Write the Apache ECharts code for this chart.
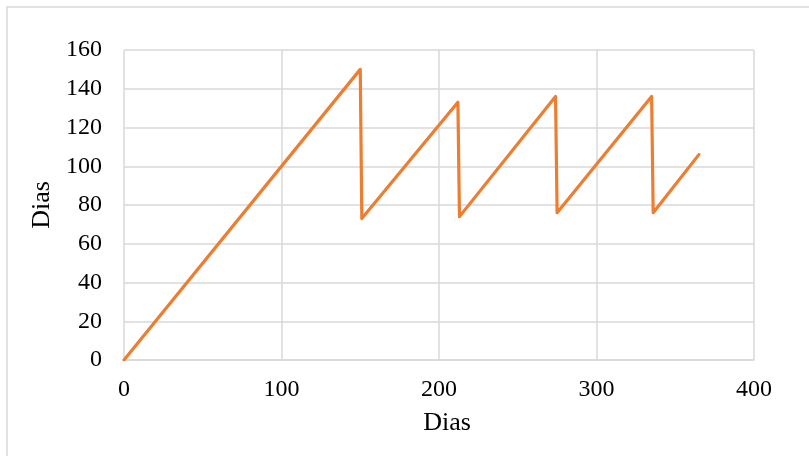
<!DOCTYPE html>
<html>
<head>
<meta charset="utf-8">
<script src="https://cdn.jsdelivr.net/npm/echarts@6/dist/echarts.min.js"></script>
<style>
  html, body { margin: 0; padding: 0; background: #fff; }
  #chart { width: 809px; height: 456px; }
</style>
</head>
<body>
<div id="chart"></div>
<script>
// Day counter: rises one per day, resets at each event
const days = [0, 150, 151, 212, 213, 274, 275, 335, 336, 365];
const counter = [0, 150, 73, 133, 74, 136, 76, 136, 76, 106];
const xTicks = [0, 100, 200, 300, 400];
const yTicks = [0, 20, 40, 60, 80, 100, 120, 140, 160];
const xTitle = 'Dias';
const yTitle = 'Dias';

const points = days.map((d, i) => [d, counter[i]]);
const font = '"Liberation Serif", "Times New Roman", serif';
const gridColor = '#d9d9d9';

const chart = echarts.init(document.getElementById('chart'), null, { renderer: 'canvas' });
chart.setOption({
  backgroundColor: '#fff',
  animation: false,
  graphic: [{
    type: 'rect',
    shape: { x: 7, y: 7, width: 900, height: 600 },
    style: { fill: 'none', stroke: '#d9d9d9', lineWidth: 1.5 },
    silent: true
  }],
  grid: { left: 124, right: 55, top: 50, bottom: 96 },
  xAxis: {
    type: 'value',
    min: xTicks[0],
    max: xTicks[xTicks.length - 1],
    interval: xTicks[1] - xTicks[0],
    name: xTitle,
    nameLocation: 'middle',
    nameGap: 50,
    nameTextStyle: { fontFamily: font, fontSize: 26, color: '#000', padding: [0, 0, 0, 16] },
    axisLine: { show: true, lineStyle: { color: gridColor, width: 1.5 } },
    axisTick: { show: false },
    axisLabel: { fontFamily: font, fontSize: 24, color: '#000', margin: 18 },
    splitLine: { show: true, lineStyle: { color: gridColor, width: 1.5 } }
  },
  yAxis: {
    type: 'value',
    min: yTicks[0],
    max: yTicks[yTicks.length - 1],
    interval: yTicks[1] - yTicks[0],
    name: yTitle,
    nameLocation: 'middle',
    nameGap: 68,
    nameTextStyle: { fontFamily: font, fontSize: 26, color: '#000' },
    axisLine: { show: false },
    axisTick: { show: false },
    axisLabel: { fontFamily: font, fontSize: 24, color: '#000', margin: 22 },
    splitLine: { show: true, lineStyle: { color: gridColor, width: 1.5 } }
  },
  series: [{
    type: 'line',
    data: points,
    symbol: 'none',
    lineStyle: { color: '#ED7D31', width: 3.2, join: 'round', cap: 'round' },
    itemStyle: { color: '#ED7D31' }
  }]
});
</script>
</body>
</html>
